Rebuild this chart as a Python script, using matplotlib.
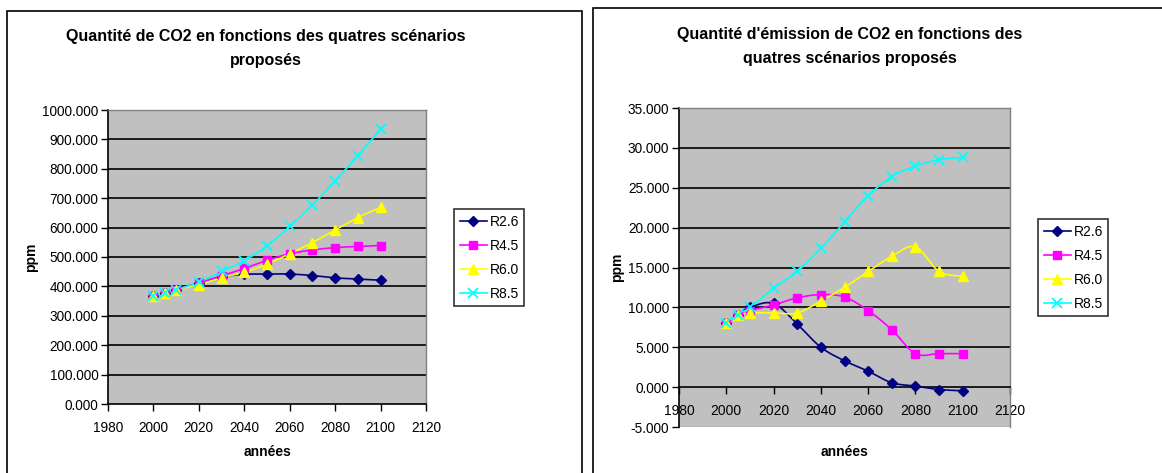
import numpy as np
import matplotlib
matplotlib.use("Agg")
import matplotlib.pyplot as plt
from matplotlib.patches import Rectangle
from matplotlib.lines import Line2D

plt.rcParams['font.family'] = ['Liberation Sans', 'DejaVu Sans']

years = [2000, 2005, 2010, 2020, 2030, 2040, 2050, 2060, 2070, 2080, 2090, 2100]
series_names = ["R2.6", "R4.5", "R6.0", "R8.5"]

# Concentration CO2 (ppm)
conc_r26 = [368, 378, 389, 412, 432, 441, 442, 442, 437, 429, 425, 421]
conc_r45 = [369, 379, 389, 412, 436, 461, 489, 511, 524, 532, 536, 539]
conc_r60 = [369, 379, 389, 406, 430, 448, 476, 511, 549, 592, 634, 669]
conc_r85 = [369, 379, 389, 414, 451, 488, 538, 604, 677, 759, 845, 934]

# Emissions CO2
emis_r26 = [8.0, 9.1, 10.0, 10.5, 7.9, 5.0, 3.3, 2.0, 0.55, 0.13, -0.3, -0.46]
emis_r45 = [8.0, 9.1, 9.6, 10.3, 11.2, 11.6, 11.3, 9.6, 7.2, 4.2, 4.2, 4.2]
emis_r60 = [8.0, 9.0, 9.3, 9.3, 9.3, 10.8, 12.5, 14.5, 16.4, 17.6, 14.5, 13.9]
emis_r85 = [8.0, 9.1, 10.0, 12.4, 14.5, 17.4, 20.7, 24.0, 26.4, 27.7, 28.5, 28.8]

colors = ["#000080", "#FF00FF", "#FFFF00", "#00FFFF"]
markers = ["D", "s", "^", "x"]
msizes = [5, 6, 7, 7]

W, H = 1162, 473
fig = plt.figure(figsize=(W / 100, H / 100), dpi=100)
fig.patch.set_facecolor("white")


def fx(px):
    return px / W


def fy(py):
    return 1 - py / H


# panel borders
fig.add_artist(Rectangle((fx(7), fy(480)), fx(582 - 7), fy(11) - fy(480),
                         transform=fig.transFigure, fill=False, edgecolor="black", lw=1.2))
fig.add_artist(Rectangle((fx(593), fy(480)), fx(1175 - 593), fy(8) - fy(480),
                         transform=fig.transFigure, fill=False, edgecolor="black", lw=1.2))


def smooth(ax, x, y):
    x = np.asarray(x, float)
    y = np.asarray(y, float)
    x0, x1 = ax.get_xlim()
    y0, y1 = ax.get_ylim()
    sx = (x - x0) / (x1 - x0)
    sy = (y - y0) / (y1 - y0)
    P = np.column_stack([sx, sy])
    n = len(P)
    out = []
    t = np.linspace(0, 1, 20)
    for i in range(n - 1):
        p0 = P[max(i - 1, 0)]
        p1 = P[i]
        p2 = P[i + 1]
        p3 = P[min(i + 2, n - 1)]
        c1 = p1 + (p2 - p0) / 6.0
        c2 = p2 - (p3 - p1) / 6.0
        seg = ((1 - t) ** 3)[:, None] * p1 + (3 * (1 - t) ** 2 * t)[:, None] * c1 \
            + (3 * (1 - t) * t ** 2)[:, None] * c2 + (t ** 3)[:, None] * p2
        out.append(seg)
    S = np.vstack(out)
    return x0 + S[:, 0] * (x1 - x0), y0 + S[:, 1] * (y1 - y0)


def draw_chart(rect, data, ylim, ystep, title, title_xy, ylabel_x, xlabel_xy, legend_xy, xaxis_at_zero):
    ax = fig.add_axes(rect)
    ax.set_facecolor("#C0C0C0")
    ax.set_xlim(1980, 2120)
    ax.set_ylim(*ylim)
    yt = np.arange(ylim[0], ylim[1] + ystep / 2, ystep)
    ax.set_yticks(yt)
    ax.set_yticklabels([f"{v:.3f}" for v in yt], fontsize=9.8)
    ax.set_xticks(np.arange(1980, 2121, 20))
    ax.set_xticklabels([str(v) for v in range(1980, 2121, 20)], fontsize=9.8)
    for v in yt:
        if v != ylim[0] and not (xaxis_at_zero and v == 0):
            ax.axhline(v, color="black", lw=1.2, zorder=1)
    for s in ["top", "right"]:
        ax.spines[s].set_color("#808080")
        ax.spines[s].set_linewidth(1)
    ax.spines["left"].set_color("black")
    ax.spines["bottom"].set_color("black")
    ax.spines["left"].set_linewidth(1.2)
    ax.spines["bottom"].set_linewidth(1.2)
    if xaxis_at_zero:
        ax.spines["bottom"].set_position(("data", 0))
        ax.add_line(Line2D([0, 1], [0, 0], transform=ax.transAxes, color="#808080", lw=1, zorder=0.5))
    ax.tick_params(axis="both", direction="out", length=5, width=1, color="black")
    ax.tick_params(axis="y", pad=2)
    ax.tick_params(axis="x", pad=7)
    for vals, c, m, ms in zip(data, colors, markers, msizes):
        sx, sy = smooth(ax, years, vals)
        ax.plot(sx, sy, color=c, lw=1.2, zorder=3, clip_on=False)
        if m == "x":
            ax.plot(years, vals, linestyle="none", marker=m, color=c, markersize=ms,
                    markeredgewidth=1.3, zorder=4, clip_on=False)
        else:
            ax.plot(years, vals, linestyle="none", marker=m, color=c, markersize=ms,
                    markeredgecolor=c, zorder=4, clip_on=False)
    fig.text(fx(title_xy[0]), fy(title_xy[1]), title, ha="center", va="center",
             fontsize=11.5, fontweight="bold", linespacing=1.75)
    fig.text(fx(ylabel_x), ax.get_position().y0 + ax.get_position().height / 2, "ppm",
             rotation=90, ha="center", va="center", fontsize=10, fontweight="bold")
    fig.text(fx(xlabel_xy[0]), fy(xlabel_xy[1]), "années", ha="center", va="center",
             fontsize=10, fontweight="bold")
    handles = []
    for c, m, ms in zip(colors, markers, msizes):
        if m == "x":
            h = Line2D([], [], color=c, marker=m, markersize=ms, markeredgewidth=1.3, lw=1.2)
        else:
            h = Line2D([], [], color=c, marker=m, markersize=ms, markeredgecolor=c, lw=1.2)
        handles.append(h)
    leg = fig.legend(handles, series_names, loc="upper left",
                     bbox_to_anchor=(fx(legend_xy[0]), fy(legend_xy[1])),
                     bbox_transform=fig.transFigure, fontsize=10, frameon=True,
                     fancybox=False, edgecolor="black", handlelength=2.0,
                     handletextpad=0.15, borderpad=0.4, labelspacing=0.72,
                     borderaxespad=0)
    leg.get_frame().set_linewidth(1.2)
    return ax


draw_chart([fx(108), fy(404), fx(426 - 108), (404 - 110) / H],
           [conc_r26, conc_r45, conc_r60, conc_r85], (0, 1000), 100,
           "Quantité de CO2 en fonctions des quatres scénarios\nproposés",
           (266, 49), 31, (268, 452), (454, 209), False)

draw_chart([fx(679), fy(427), fx(1010 - 679), (427 - 108) / H],
           [emis_r26, emis_r45, emis_r60, emis_r85], (-5, 35), 5,
           "Quantité d'émission de CO2 en fonctions des\nquatres scénarios proposés",
           (850, 47), 617, (845, 452), (1038, 219), True)

fig.savefig("out.png", dpi=100)
